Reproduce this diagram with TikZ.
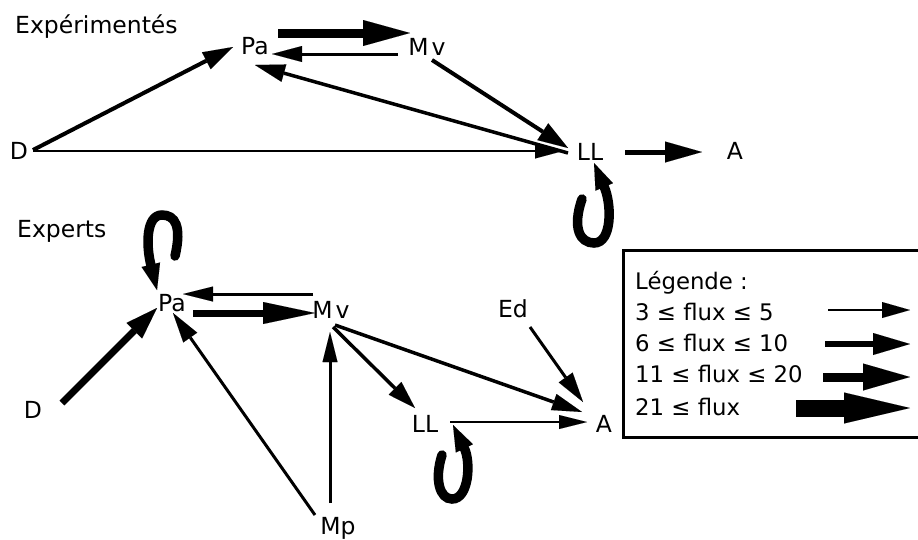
\documentclass[tikz,border=0pt]{standalone}
\usepackage{fontspec}
\setmainfont{DejaVu Sans}
\usetikzlibrary{arrows.meta}
\tikzset{
  lbl/.style={inner sep=0pt, anchor=base, font=\fontsize{23.5}{28}\selectfont},
  lblw/.style={inner sep=0pt, anchor=base west, font=\fontsize{23.5}{28}\selectfont},
  legtext/.style={inner sep=0pt, anchor=base west, font=\fontsize{22.8}{27}\selectfont},
  arr/.style args={#1/#2/#3}{line width=#1pt, line cap=butt,
     -{Triangle[length=#2pt,width=#3pt,line width=0.01pt]}},
  loopline/.style={line width=9.5pt, line cap=round,
     -{Triangle[length=26pt,width=19pt,line width=0.01pt]}},
}
\begin{document}
\begin{tikzpicture}[x=1pt,y=-1pt]
\useasboundingbox (0,0) rectangle (918,539);
% ---------- Expérimentés ----------
\node[lblw] (t1) at (15,33) {Expérimentés};
\node[lbl] (aPa) at (255,54) {Pa};
\node[lbl] (aMv) at (427,55) {M\hspace{3pt}v};
\node[lbl] (aD) at (19,159) {D};
\node[lbl] (aLL) at (590,160) {LL};
\node[lbl] (aA) at (735,159) {A};
\coordinate (aPaR1) at (278,33);  \coordinate (aMvL1) at (410,33);
\coordinate (aMvL2) at (398,54);  \coordinate (aPaR2) at (272,54);
\coordinate (aDR1) at (33,150);   \coordinate (aPaL) at (233,47);
\coordinate (aDR2) at (33,151);   \coordinate (aLLL1) at (563,151);
\coordinate (aLLL2) at (568,153); \coordinate (aPaB) at (255,65);
\coordinate (aMvB) at (432,60);   \coordinate (aLLL3) at (568,148);
\coordinate (aLLR) at (625,152);  \coordinate (aAL) at (702,152);
\coordinate (aLoopS) at (582,199); \coordinate (aLLB) at (594,163);
\draw[arr=9/47/26] (aPaR1) -- (aMvL1);
\draw[arr=3/30/16] (aMvL2) -- (aPaR2);
\draw[arr=4/30/19] (aDR1) -- (aPaL);
\draw[arr=2.5/28/15] (aDR2) -- (aLLL1);
\draw[arr=3.5/30/18] (aLLL2) -- (aPaB);
\draw[arr=4/30/20] (aMvB) -- (aLLL3);
\draw[arr=5/37/21] (aLLR) -- (aAL);
\draw[loopline] (aLoopS) .. controls (572,228) and (580,243) .. (594,243)
   .. controls (612,243) and (612,205) .. (aLLB);
% ---------- Experts ----------
\node[lblw] (t2) at (17,237) {Experts};
\node[lbl] (bPa) at (172,311) {Pa};
\node[lbl] (bMv) at (331,318) {M\hspace{3pt}v};
\node[lbl] (bD) at (33,418) {D};
\node[lbl] (bMp) at (338,534) {Mp};
\node[lbl] (bLL) at (425,432) {LL};
\node[lbl] (bEd) at (513,317) {Ed};
\node[lbl] (bA) at (604,432) {A};
\coordinate (bLoopS) at (175,256); \coordinate (bPaT) at (157,290);
\coordinate (bMvL1) at (313,294);  \coordinate (bPaR1) at (183,294);
\coordinate (bPaR2) at (193,313);  \coordinate (bMvL2) at (315,313);
\coordinate (bDR) at (62,403);     \coordinate (bPaL) at (157,308);
\coordinate (bMpT1) at (315,515);  \coordinate (bPaB) at (173,313);
\coordinate (bMpT2) at (330,503);  \coordinate (bMvB) at (330,332);
\coordinate (bMvB1) at (333,327);  \coordinate (bLLT) at (415,408);
\coordinate (bMvB2) at (335,325);  \coordinate (bAL1) at (582,412);
\coordinate (bEdB) at (530,327);   \coordinate (bAT) at (583,402);
\coordinate (bLLR) at (450,422);   \coordinate (bAL2) at (587,422);
\coordinate (bLoop2S) at (442,455); \coordinate (bLLB) at (453,425);
\draw[loopline] (bLoopS) .. controls (182,226) and (175,215) .. (162,215)
   .. controls (146,215) and (146,245) .. (bPaT);
\draw[arr=3/30/15] (bMvL1) -- (bPaR1);
\draw[arr=7/52/22] (bPaR2) -- (bMvL2);
\draw[arr=7/32/22] (bDR) -- (bPaL);
\draw[arr=3/30/17] (bMpT1) -- (bPaB);
\draw[arr=3/30/15] (bMpT2) -- (bMvB);
\draw[arr=3.5/28/18] (bMvB1) -- (bLLT);
\draw[arr=3.5/30/17] (bMvB2) -- (bAL1);
\draw[arr=3/30/17] (bEdB) -- (bAT);
\draw[arr=2.5/28/14] (bLLR) -- (bAL2);
\draw[loopline] (bLoop2S) .. controls (434,480) and (440,499) .. (452,499)
   .. controls (469,499) and (471,462) .. (bLLB);
% ---------- Légende ----------
\node[draw, line width=2.5pt, inner sep=0pt, minimum width=320pt, minimum height=187pt,
      anchor=north west] (leg) at (622,249) {};
\node[legtext] (g0) at (635,289) {Légende :};
\node[legtext] (g1) at (635,320) {3 ≤ flux ≤ 5};
\node[legtext] (g2) at (635,351) {6 ≤ flux ≤ 10};
\node[legtext] (g3) at (635,382) {11 ≤ flux ≤ 20};
\node[legtext] (g4) at (635,415) {21 ≤ flux};
\coordinate (l1s) at (828,310); \coordinate (l1e) at (910,310);
\coordinate (l2s) at (825,344); \coordinate (l2e) at (910,344);
\coordinate (l3s) at (823,377); \coordinate (l3e) at (910,377);
\coordinate (l4s) at (796,408); \coordinate (l4e) at (910,408);
\draw[arr=2.5/28/16] (l1s) -- (l1e);
\draw[arr=6/37/22] (l2s) -- (l2e);
\draw[arr=9/47/27] (l3s) -- (l3e);
\draw[arr=17/66/31] (l4s) -- (l4e);
\end{tikzpicture}
\end{document}
